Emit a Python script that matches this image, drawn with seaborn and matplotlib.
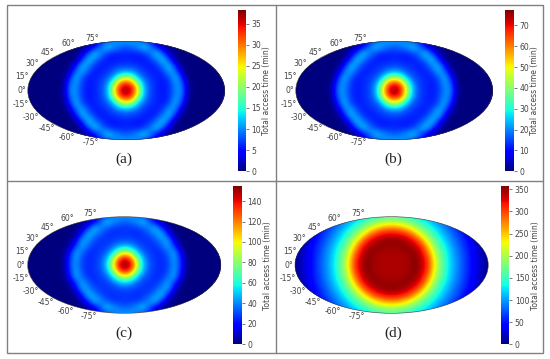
import numpy as np
import seaborn as sns
import matplotlib.pyplot as plt
from matplotlib.lines import Line2D
from matplotlib.patches import Rectangle
from matplotlib.transforms import Affine2D

# Quadrant of each map, centre top-left; columns go out to the right edge, rows go up to the top.
# Rows stop where the map has gone to zero.
map_a = [
    [38, 35, 24, 11, 7.5, 6, 5.5, 6.3, 10, 10.4, 1.7],
    [35, 32, 20, 10.5, 7.2, 6, 5.5, 6.5, 10.4, 9.5, 0.9],
    [24, 20, 12, 8.2, 6.8, 6, 5.5, 7.3, 12, 6.9, 0.3],
    [11, 10.5, 8.2, 6.8, 6, 5.5, 7, 11, 10, 2.9],
    [7.3, 7, 6.6, 6, 5.5, 6.6, 9.5, 12.5, 5.9, 0.5],
    [6, 5.8, 5.5, 5.5, 6.8, 9.3, 13, 7, 1.2],
    [6, 5.8, 5.8, 7, 9.5, 13, 8, 3],
    [8, 9, 10.5, 12.8, 9.5, 5.5, 2],
    [10.5, 10.5, 9.5, 8, 5.5, 3, 1.5],
]
map_b = [
    [77, 71, 47, 23, 15, 12.5, 11.5, 13, 20, 21, 3.5],
    [71, 64, 40, 21, 14.5, 12.5, 11.5, 13.5, 21, 19, 2],
    [47, 40, 25, 16, 14, 12.5, 11.5, 15, 24, 14, 0.5],
    [23, 21, 16, 14, 12.5, 11.5, 14.5, 22.5, 20, 6],
    [15, 14.4, 13.6, 12.5, 11.5, 13.5, 19.5, 25, 12, 1],
    [12.5, 12, 11.5, 11.5, 14, 19, 26, 14, 2.5],
    [12.5, 12, 12, 14.5, 19.5, 26, 16, 6],
    [16.5, 18.5, 21.5, 25.5, 19, 11, 4],
    [21.5, 21.5, 19.5, 16.5, 11, 6, 3],
]
map_c = [
    [155, 144, 95, 50, 33, 27, 25, 29, 44, 30, 3],
    [144, 126, 80, 45, 31, 27, 25, 30, 45, 27, 2],
    [95, 80, 52, 34, 29, 26, 26, 35, 47, 20, 1],
    [50, 45, 34, 29, 27, 26, 33, 46, 30, 6],
    [31, 30, 28, 27, 26, 32, 41, 46, 16, 1],
    [27, 27, 26, 27, 32, 41, 50, 24, 4],
    [27, 27, 27, 33, 41, 50, 28, 9],
    [33, 37, 43, 50, 35, 19, 6],
    [42, 42, 38, 32, 21, 11, 4],
]
map_d = [
    [343, 343, 343, 346, 357, 338, 306, 236, 180, 141, 112, 89, 69, 48, 33, 16, 5],
    [343, 343, 344, 347, 356, 335, 300, 231, 178, 139, 110, 88, 68, 48, 33, 16, 5],
    [344, 344, 346, 352, 350, 326, 279, 214, 170, 134, 107, 85, 65, 48, 31, 14, 4],
    [348, 350, 354, 350, 335, 308, 250, 195, 156, 125, 101, 80, 62, 44, 27, 12, 3],
    [354, 352, 345, 332, 312, 265, 212, 173, 139, 113, 92, 73, 56, 39, 23, 9, 2],
    [328, 326, 316, 296, 258, 215, 180, 150, 123, 102, 83, 66, 48, 33, 17, 5],
    [277, 272, 256, 232, 202, 176, 150, 127, 107, 88, 71, 55, 40, 25, 11, 3],
    [206, 203, 194, 180, 162, 142, 125, 107, 91, 76, 60, 46, 31, 17, 6],
    [160, 157, 150, 140, 128, 115, 102, 90, 75, 62, 49, 35, 22, 10, 3],
]

panel_names = ['(a)', '(b)', '(c)', '(d)']
panel_maps = [map_a, map_b, map_c, map_d]
panel_max = [38.2, 77.4, 154.7, 357.5]
panel_ticks = [
    [0, 5, 10, 15, 20, 25, 30, 35],
    [0, 10, 20, 30, 40, 50, 60, 70],
    [0, 20, 40, 60, 80, 100, 120, 140],
    [0, 50, 100, 150, 200, 250, 300, 350],
]
lat_ticks = [-75, -60, -45, -30, -15, 0, 15, 30, 45, 60, 75]

# pixel boxes (left, top, right, bottom)
map_boxes = [(27.3, 41.3, 225, 139.7), (295, 41.3, 493.3, 139.7),
             (26.7, 216.7, 221.7, 313.3), (294.3, 216.7, 489, 313.3)]
bar_boxes = [(237.7, 10, 245.7, 171.3), (505, 10, 513.7, 171.3),
             (233.3, 186, 241.7, 344.3), (501, 186, 509.3, 344.3)]
name_pos = [(124, 159), (393, 159), (124, 333), (393, 333)]

W, H = 550, 359
GREY = '#444444'


def px_axes(fig, box, **kw):
    l, t, r, b = box
    return fig.add_axes([l / W, 1 - b / H, (r - l) / W, (b - t) / H], **kw)


def mirror(q):
    q = np.array([row + [0] * (17 - len(row)) for row in q], dtype=float)
    full = np.hstack([q[:, :0:-1], q])
    return np.vstack([full[:0:-1], full])


sns.set_style('white')
fig = plt.figure(figsize=(5.5, 3.59), dpi=100, facecolor='white')

for i in range(4):
    ax = px_axes(fig, map_boxes[i])
    cax = px_axes(fig, bar_boxes[i])
    values = mirror(panel_maps[i])
    rows, cols = values.shape
    sns.heatmap(values, ax=ax, cbar_ax=cax, cmap='jet', vmin=0, vmax=panel_max[i],
                xticklabels=False, yticklabels=False,
                cbar_kws={'ticks': panel_ticks[i]})
    # same values again as a smoothed image, the cells are too coarse on their own
    smooth = ax.imshow(values, cmap='jet', vmin=0, vmax=panel_max[i], aspect='auto',
                       interpolation='bicubic', interpolation_stage='data',
                       extent=(0, cols, rows, 0), zorder=3)
    ax.set_xlim(0.5, cols - 0.5)
    ax.set_ylim(rows - 0.5, 0.5)
    ax.axis('off')

    # hammer axes on top gives the oval outline and latitude labels
    geo = px_axes(fig, map_boxes[i], projection='hammer')
    geo._yaxis_text1_transform = geo._yaxis_text1_transform + Affine2D().translate(6, 0)
    geo.yaxis.reset_ticks()
    geo.set_facecolor('none')
    geo.grid(False)
    geo.set_xticks([])
    geo.set_yticks(np.radians(lat_ticks))
    geo.tick_params(axis='y', labelsize=5.5, labelcolor=GREY)
    geo.spines['geo'].set_linewidth(0.4)
    geo.spines['geo'].set_edgecolor('#333333')
    ax.collections[0].set_clip_path(geo.patch)
    smooth.set_clip_path(geo.patch)

    cb = ax.collections[0].colorbar
    cb.ax.tick_params(labelsize=5.5, length=2, width=0.5, pad=2, color=GREY, labelcolor=GREY)
    cb.set_label('Total access time (min)', size=5.5, color=GREY, labelpad=1)

    fig.text(name_pos[i][0] / W, 1 - name_pos[i][1] / H, panel_names[i],
             family='Liberation Serif', fontsize=11, color='#222222', ha='center', va='center')

# frame round the four panels
fig.add_artist(Rectangle((7 / W, 1 - 353 / H), 536 / W, 348.5 / H, transform=fig.transFigure,
                         fill=False, ec='#808080', lw=1))
fig.add_artist(Line2D([276 / W, 276 / W], [1 - 353 / H, 1 - 4.5 / H], color='#808080', lw=1))
fig.add_artist(Line2D([7 / W, 543 / W], [1 - 181 / H, 1 - 181 / H], color='#808080', lw=1))

fig.savefig('out.png', dpi=100)
